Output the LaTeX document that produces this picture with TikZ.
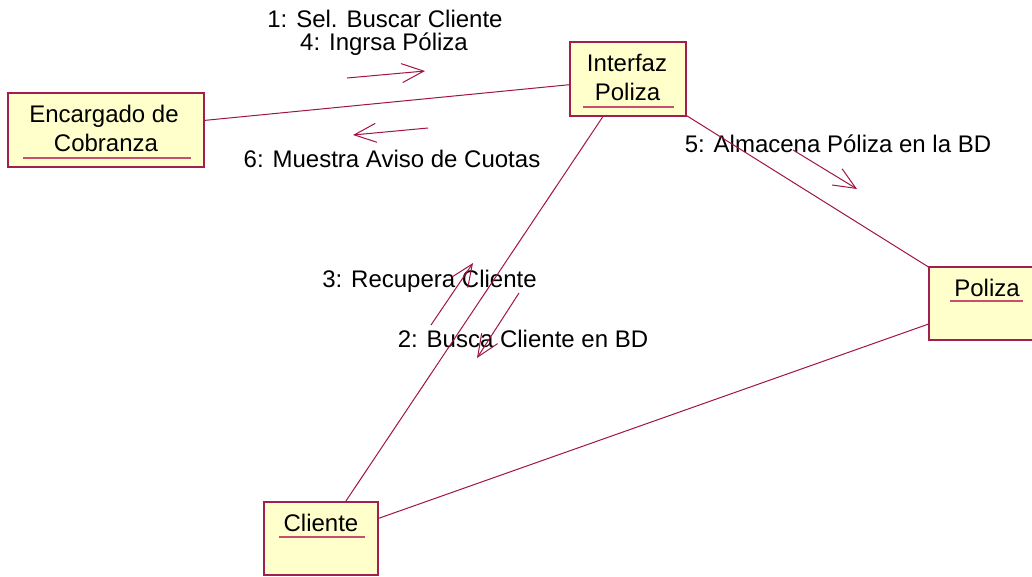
\documentclass[tikz,border=0pt]{standalone}
\usepackage{fontspec}
\setmainfont{Liberation Sans}
\usetikzlibrary{arrows.meta}
\definecolor{boxfill}{RGB}{255,255,204}
\definecolor{boxdraw}{RGB}{160,30,80}
\definecolor{linkc}{RGB}{160,20,70}
\definecolor{ulc}{RGB}{200,80,110}
\begin{document}
\begin{tikzpicture}[x=1pt,y=-1pt,
  box/.style={draw=boxdraw, fill=boxfill, line width=1.2pt, rectangle, inner sep=0pt},
  lbl/.style={anchor=base, inner sep=0pt, font=\fontsize{24}{28}\selectfont},
  link/.style={draw=linkc, line width=1pt},
  msg/.style={draw=linkc, line width=1pt, -{Straight Barb[length=22pt,width=19pt]}},
  ul/.style={draw=ulc, line width=1.2pt}]
\useasboundingbox (0,0) rectangle (1032,576);
\clip (0,0) rectangle (1032,576);
\fill[white] (0,0) rectangle (1032,576);
% boxes
\node[box, minimum width=196pt, minimum height=74pt] (enc) at (106,130) {};
\node[box, minimum width=116pt, minimum height=74pt] (int) at (628,79) {};
\node[box, minimum width=116pt, minimum height=73pt] (pol) at (987,303.5) {};
\node[box, minimum width=114pt, minimum height=73pt] (cli) at (321,538.5) {};
% box labels
\node[lbl] (encA) at (104,122) {Encargado de};
\node[lbl] (encB) at (106,151) {Cobranza};
\node[lbl] (intA) at (627,71) {Interfaz};
\node[lbl] (intB) at (627.5,100) {Poliza};
\node[lbl] (polA) at (987,296) {Poliza};
\node[lbl] (cliA) at (321,531) {Cliente};
% message labels
\node[lbl] (t1) at (385,27) {1: Sel. Buscar Cliente};
\node[lbl] (t4) at (384,50) {4: Ingrsa Póliza};
\node[lbl] (t6) at (392,167) {6: Muestra Aviso de Cuotas};
\node[lbl] (t5) at (838,152) {5: Almacena Póliza en la BD};
\node[lbl] (t3) at (429.5,287) {3: Recupera Cliente};
\node[lbl] (t2) at (523,347) {2: Busca Cliente en BD};
% links
\draw[link] (enc) -- (int);
\draw[link] (int) -- (cli);
\draw[link] (int) -- (pol);
\draw[link] (cli) -- (pol);
% message arrows
\coordinate (m1a) at (347,78);  \coordinate (m1b) at (425,71);
\coordinate (m6a) at (428,128); \coordinate (m6b) at (353,135);
\coordinate (m5a) at (793,150); \coordinate (m5b) at (857,189);
\coordinate (m3a) at (431,325); \coordinate (m3b) at (473,263);
\coordinate (m2a) at (519,293); \coordinate (m2b) at (477,358);
\draw[msg] (m1a) -- (m1b);
\draw[msg] (m6a) -- (m6b);
\draw[msg] (m5a) -- (m5b);
\draw[msg] (m3a) -- (m3b);
\draw[msg] (m2a) -- (m2b);
% underlines
\draw[ul] (23,158) -- (191,158);
\draw[ul] (583,107) -- (674,107);
\draw[ul] (950,301) -- (1023,301);
\draw[ul] (279,537) -- (365,537);
\end{tikzpicture}
\end{document}
